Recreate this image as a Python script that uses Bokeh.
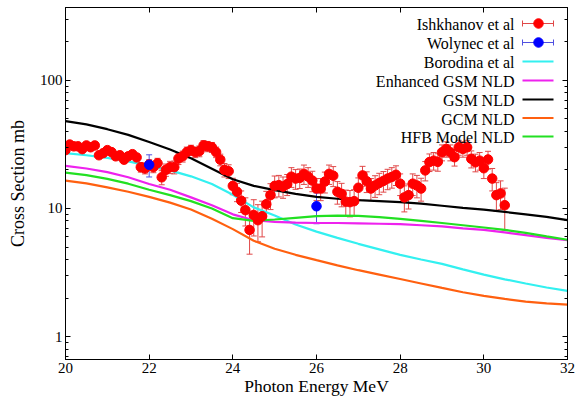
import math
from bokeh.plotting import figure
from bokeh.models import (ColumnDataSource, Whisker, TeeHead, LinearAxis, LogAxis,
                          SingleIntervalTicker, LogTicker, FixedTicker, Range1d,
                          Label, LogTickFormatter, CustomJSTickFormatter)
from bokeh.embed import file_html
from bokeh.resources import INLINE

# ---------------- data ----------------
ishkhanov_e = [20.0, 20.1, 20.2, 20.3, 20.4, 20.5, 20.6, 20.7, 20.8, 20.9,
               21.0, 21.1, 21.2, 21.3, 21.4, 21.5, 21.6, 21.7, 21.8, 21.9,
               22.0, 22.1, 22.2, 22.3, 22.4, 22.5, 22.6, 22.7, 22.8, 22.9,
               23.0, 23.1, 23.2, 23.3, 23.4, 23.5, 23.6, 23.7, 23.8, 23.9,
               24.0, 24.1, 24.2, 24.3, 24.4, 24.5, 24.6, 24.7, 24.8, 24.9,
               25.0, 25.1, 25.2, 25.3, 25.4, 25.5, 25.6, 25.7, 25.8, 25.9,
               26.0, 26.1, 26.2, 26.3, 26.4, 26.5, 26.6, 26.7, 26.8, 26.9,
               27.0, 27.1, 27.2, 27.3, 27.4, 27.5, 27.6, 27.7, 27.8, 27.9,
               28.0, 28.1, 28.2, 28.3, 28.4, 28.5, 28.6, 28.7, 28.8, 28.9,
               29.0, 29.1, 29.2, 29.3, 29.4, 29.5, 29.6, 29.7, 29.8, 29.9,
               30.0, 30.1, 30.2, 30.3, 30.4, 30.5]
ishkhanov_xs = [28.5, 31.5, 30.5, 30.5, 29.0, 31.0, 30.0, 31.0, 26.0, 27.0,
                28.5, 27.5, 25.5, 26.0, 24.0, 25.5, 26.5, 25.0, 21.0, 20.5,
                22.0, 21.0, 22.5, 17.5, 20.0, 21.0, 21.0, 24.5, 25.5, 27.5,
                28.5, 27.5, 28.0, 31.0, 30.5, 30.0, 27.5, 24.0, 20.0, 19.5,
                15.0, 13.5, 11.5, 9.7, 6.8, 8.9, 8.1, 8.7, 10.8, 12.7,
                15.0, 15.2, 14.8, 15.5, 17.7, 17.1, 17.3, 18.6, 17.7, 16.5,
                14.3, 14.3, 16.2, 18.6, 18.0, 13.5, 13.0, 11.3, 11.2, 11.4,
                14.5, 18.1, 16.3, 14.3, 15.1, 15.8, 16.4, 17.1, 17.6, 18.3,
                15.6, 12.2, 12.7, 15.6, 15.1, 14.3, 19.8, 23.0, 23.6, 23.1,
                27.4, 29.1, 27.4, 25.1, 30.0, 29.1, 30.0, 24.4, 22.9, 23.6,
                20.6, 24.1, 17.1, 12.7, 13.1, 10.6]
ishkhanov_err = [1.3, 1.4, 1.3, 1.3, 1.3, 1.4, 1.3, 1.4, 1.5, 1.5,
                 1.6, 1.5, 1.5, 1.5, 1.6, 1.5, 1.6, 1.6, 1.8, 1.9,
                 2.0, 2.0, 2.1, 2.2, 2.2, 2.3, 2.4, 2.5, 2.5, 2.6,
                 2.6, 2.6, 2.7, 2.8, 2.8, 2.7, 2.6, 2.5, 2.4, 2.4,
                 2.2, 2.2, 2.2, 2.4, 2.4, 2.8, 2.6, 2.7, 2.8, 2.9,
                 2.9, 2.9, 2.8, 2.9, 3.1, 3.0, 3.0, 3.2, 3.1, 3.0,
                 2.8, 2.8, 3.0, 3.2, 3.2, 2.7, 2.7, 2.6, 2.6, 2.6,
                 2.8, 3.2, 3.0, 2.8, 2.9, 3.0, 3.0, 3.1, 3.2, 3.2,
                 3.0, 2.8, 2.8, 3.0, 3.0, 2.9, 3.4, 3.6, 3.7, 3.6,
                 3.9, 4.0, 3.9, 3.7, 4.0, 4.0, 4.0, 3.7, 3.6, 3.7,
                 3.5, 3.8, 3.4, 3.2, 3.3, 3.8]

wolynec_e = [22.0, 26.0]
wolynec_xs = [21.9, 10.4]
wolynec_err = [4.3, 2.8]

model_e = [20.0, 20.5, 21.0, 21.5, 22.0, 22.5, 23.0, 23.5, 24.0, 24.5,
           25.0, 25.5, 26.0, 26.5, 27.0, 27.5, 28.0, 28.5, 29.0, 29.5,
           30.0, 30.5, 31.0, 31.5, 32.0]
borodina = [27.0, 26.0, 24.8, 23.3, 21.5, 19.8, 17.8, 15.5, 12.8, 10.2,
            8.8, 7.5, 6.6, 5.9, 5.3, 4.8, 4.35, 4.0, 3.7, 3.35,
            3.05, 2.8, 2.6, 2.42, 2.28]
enhanced_gsm = [21.5, 20.5, 19.2, 17.5, 15.5, 14.0, 12.2, 10.6, 9.0, 8.1,
                7.85, 7.75, 7.7, 7.7, 7.65, 7.6, 7.55, 7.4, 7.25, 7.0,
                6.8, 6.5, 6.2, 5.9, 5.65]
gsm = [48.0, 45.2, 41.5, 37.5, 33.0, 28.8, 24.6, 20.4, 16.9, 15.0,
       13.9, 13.0, 12.3, 11.9, 11.6, 11.4, 11.2, 10.9, 10.5, 10.1,
       9.8, 9.4, 9.0, 8.6, 8.1]
gcm = [16.5, 15.7, 14.6, 13.5, 12.3, 11.1, 9.8, 8.3, 6.9, 5.6,
       4.85, 4.35, 3.95, 3.6, 3.3, 3.05, 2.82, 2.6, 2.4, 2.22,
       2.08, 1.97, 1.88, 1.82, 1.78]
hfb = [19.0, 18.2, 17.0, 15.6, 14.0, 12.7, 11.4, 10.0, 8.4, 8.0,
       8.2, 8.45, 8.7, 8.8, 8.75, 8.55, 8.3, 8.0, 7.7, 7.4,
       7.1, 6.8, 6.45, 6.05, 5.7]

legend_labels = ["Ishkhanov et al", "Wolynec et al", "Borodina et al",
                 "Enhanced GSM NLD", "GSM NLD", "GCM NLD", "HFB Model NLD"]
x_title = "Photon Energy MeV"
y_title = "Cross Section mb"

# ---------------- style ----------------
FONT = "Liberation Serif"
C_RED, C_RED_BAR = "#ff0000", "#e04848"
C_BLUE, C_BLUE_BAR = "#0000ff", "#5050e0"
C_CYAN, C_MAG, C_BLACK, C_ORANGE, C_GREEN = "#33f0f0", "#ee22ee", "#000000", "#ff6010", "#22e022"

X0, X1 = 20.0, 32.0
Y0, Y1 = 0.664, 369.0
W, H = 582, 398
FL, FR, FT, FB = 65, 15, 7, 39   # frame borders in px

p = figure(width=W, height=H, output_backend="svg", toolbar_location=None,
           x_range=Range1d(X0, X1), y_range=Range1d(Y0, Y1), y_axis_type="log",
           min_border_left=FL, min_border_right=FR, min_border_top=FT, min_border_bottom=FB,
           background_fill_color="white", border_fill_color="white")
p.grid.visible = False
p.outline_line_color = "black"
p.outline_line_width = 1

xt = SingleIntervalTicker(interval=2, num_minor_ticks=0)
yt = LogTicker(num_minor_ticks=10)
blank = CustomJSTickFormatter(code="return '';")

p.xaxis[0].ticker = xt
p.yaxis[0].ticker = yt
p.yaxis[0].formatter = LogTickFormatter(min_exponent=4)

def style_axis(ax, show_labels):
    ax.axis_line_color = "black"
    ax.major_tick_line_color = "black"
    ax.minor_tick_line_color = "black"
    ax.major_tick_in = 5
    ax.major_tick_out = 0
    ax.minor_tick_in = 3
    ax.minor_tick_out = 0
    ax.major_label_text_font = FONT
    ax.major_label_text_color = "black"
    ax.major_label_text_font_size = "15px"
    if not show_labels:
        ax.formatter = blank
        ax.major_label_standoff = 0

style_axis(p.xaxis[0], True)
style_axis(p.yaxis[0], True)
p.xaxis[0].major_label_standoff = 3
p.yaxis[0].major_label_standoff = 3

p.yaxis[0].axis_label = y_title
p.yaxis[0].axis_label_standoff = 9
p.yaxis[0].axis_label_text_font = FONT
p.yaxis[0].axis_label_text_font_size = "18px"
p.yaxis[0].axis_label_text_font_style = "normal"
p.yaxis[0].axis_label_text_color = "black"

top = LinearAxis(ticker=xt)
right = LogAxis(ticker=yt)
style_axis(top, False)
style_axis(right, False)
p.add_layout(top, "above")
p.add_layout(right, "right")

# x title on its own tick-less axis stacked under the main x axis
title_axis = LinearAxis(ticker=FixedTicker(ticks=[]), axis_label=x_title,
                        axis_line_color=None, major_tick_in=0, major_tick_out=0,
                        minor_tick_in=0, minor_tick_out=0, major_label_standoff=0,
                        axis_label_standoff=0, axis_label_text_font=FONT,
                        axis_label_text_font_size="17.5px", axis_label_text_font_style="normal",
                        axis_label_text_color="black")
p.add_layout(title_axis, "below")

# ---------------- model curves ----------------
lw = 2.2
p.line(model_e, borodina, line_color=C_CYAN, line_width=lw)
p.line(model_e, enhanced_gsm, line_color=C_MAG, line_width=lw)
p.line(model_e, gcm, line_color=C_ORANGE, line_width=lw)
p.line(model_e, hfb, line_color=C_GREEN, line_width=lw)
p.line(model_e, gsm, line_color=C_BLACK, line_width=lw)

# ---------------- data with error bars ----------------
src_i = ColumnDataSource(dict(
    x=ishkhanov_e, y=ishkhanov_xs,
    lo=[v - e for v, e in zip(ishkhanov_xs, ishkhanov_err)],
    hi=[v + e for v, e in zip(ishkhanov_xs, ishkhanov_err)]))
p.add_layout(Whisker(source=src_i, base="x", lower="lo", upper="hi",
                     line_color=C_RED_BAR, line_width=1,
                     lower_head=TeeHead(size=6, line_color=C_RED_BAR, line_width=1),
                     upper_head=TeeHead(size=6, line_color=C_RED_BAR, line_width=1)))
p.scatter("x", "y", source=src_i, size=9.5, fill_color=C_RED, line_color=C_RED)

src_w = ColumnDataSource(dict(
    x=wolynec_e, y=wolynec_xs,
    lo=[v - e for v, e in zip(wolynec_xs, wolynec_err)],
    hi=[v + e for v, e in zip(wolynec_xs, wolynec_err)]))
p.add_layout(Whisker(source=src_w, base="x", lower="lo", upper="hi",
                     line_color=C_BLUE_BAR, line_width=1,
                     lower_head=TeeHead(size=6, line_color=C_BLUE_BAR, line_width=1),
                     upper_head=TeeHead(size=6, line_color=C_BLUE_BAR, line_width=1)))
p.scatter("x", "y", source=src_w, size=9.5, fill_color=C_BLUE, line_color=C_BLUE)

# ---------------- helpers: pixel -> data (for legend layout) ----------------
fw = W - FL - FR
fh = H - FT - FB
def sx(px):
    return X0 + (px - FL) / fw * (X1 - X0)
def sy(py):
    l0, l1 = math.log10(Y0), math.log10(Y1)
    return 10 ** (l0 + (FT + fh - py) / fh * (l1 - l0))

# ---------------- legend (gnuplot style: text right, sample after) ----------------
rows = [23, 42, 61, 80, 99, 117.5, 136]
text_px, s0, s1, smid = 514, 522, 553, 538
samples = [("err", C_RED, C_RED_BAR), ("err", C_BLUE, C_BLUE_BAR),
           ("line", C_CYAN, None), ("line", C_MAG, None), ("line", C_BLACK, None),
           ("line", C_ORANGE, None), ("line", C_GREEN, None)]
for lab, ry, (kind, col, bar) in zip(legend_labels, rows, samples):
    p.add_layout(Label(x=sx(text_px), y=sy(ry + 1), text=lab, text_align="right",
                       text_baseline="middle", text_font=FONT, text_font_size="16px",
                       text_color="black"))
    if kind == "line":
        p.line([sx(s0), sx(s1)], [sy(ry), sy(ry)], line_color=col, line_width=lw)
    else:
        p.line([sx(s0), sx(s1)], [sy(ry), sy(ry)], line_color=bar, line_width=1)
        p.segment([sx(s0), sx(s1)], [sy(ry - 3), sy(ry - 3)],
                  [sx(s0), sx(s1)], [sy(ry + 3), sy(ry + 3)], line_color=bar, line_width=1)
        p.scatter([sx(smid)], [sy(ry)], size=9.5, fill_color=col, line_color=col)

open("out.html", "w").write(file_html(p, INLINE))
